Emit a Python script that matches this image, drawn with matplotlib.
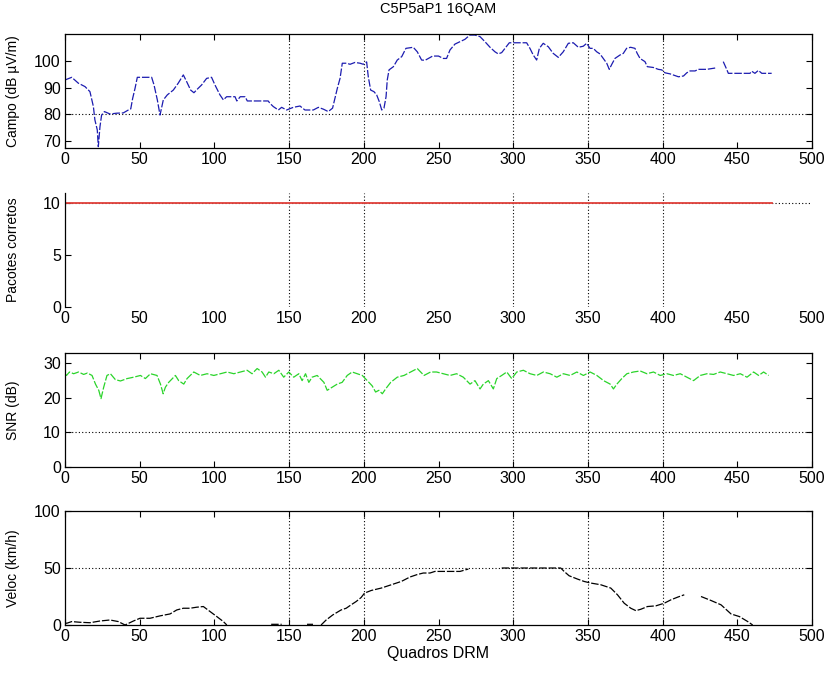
import numpy as np
import matplotlib
matplotlib.use("Agg")
import matplotlib.pyplot as plt

plt.rcParams["font.family"] = ["Liberation Sans", "DejaVu Sans"]

nan = np.nan

# Campo (dB uV/m)
campo_x = [0, 4.5, 8.9, 13.4, 16.7, 19, 20, 21.6, 22.3, 23.4, 24.5, 26.4, 30.1, 34.6, 39,
           42.4, 44, 45.3, 46.9, 48.4, 58, 59.6, 61.8, 63.6, 65.8, 68.5, 72.5, 75.8, 79.2,
           81.4, 84.1, 86.3, 89.2, 91.4, 94.8, 98.1, 100.4, 103.7, 106, 108.2, 113.8, 115,
           117.3, 120.6, 122, 136, 137.2, 139.4, 142.8, 145, 148.3, 152.8, 157.3, 160.6,
           166.2, 169.6, 173, 176.2, 179.1, 180.7, 182.3, 184.1, 185.6, 188.5, 190.8, 194.1,
           197.5, 199.7, 201.9, 203, 204.6, 206.8, 208.6, 210.4, 212, 213.5, 214.9, 215.7,
           216.9, 219.8, 222.4, 225.4, 228.2, 233.1, 235.8, 238.7, 241, 246.1, 250, 253.2,
           255.4, 257.7, 261, 264.4, 267.7, 271, 274.4, 277.8, 281.1, 284.5, 287.8, 290,
           292.3, 294.5, 297.4, 309, 311.2, 313.4, 315.7, 317.5, 320.1, 323.5, 326.8, 330.2,
           333.5, 336.9, 340.2, 343.6, 346.9, 349.2, 351.4, 353.6, 355.9, 358.1, 360.3,
           362.6, 364.3, 366, 368.1, 371.5, 373.7, 375.9, 378.6, 381.5, 383, 384.9, 388.2,
           389.8, 393.8, 397.1, 399.4, 401.6, 405, 410.6, 414, 416.2, 418.4, 421.7, 424,
           429.6, 435.2, 437, 440.6, 442.9, 444, 458.5, 459.6, 461.8, 464.1, 466.4, 473]
campo_y = [92.9, 93.9, 91.7, 90.4, 88.5, 82.9, 77.9, 74.1, 67.8, 75.3, 79.7, 81, 80.1, 80.4,
           80.5, 81.6, 82, 86, 89.8, 93.9, 93.9, 91, 85.4, 79.7, 85.4, 87.3, 89.1, 91.7, 94.8,
           92.3, 89.1, 88.1, 89.8, 91, 93.5, 93.9, 91, 87.3, 85.4, 86.6, 86.6, 85, 86.6, 86.6,
           85, 85, 84.1, 82.9, 81.6, 82.6, 81.6, 82.6, 83.1, 81.6, 81.6, 82.6, 81.9, 81,
           82.3, 86, 89.8, 93.5, 99.2, 99.2, 98.8, 99.5, 99.2, 98.8, 99.7, 94.1, 89.1, 88.5,
           87.3, 84.7, 81.6, 82.3, 86.6, 92.9, 96.7, 97.9, 100.4, 101.7, 104.8, 105.2, 103.5,
           100.4, 100.3, 101.9, 101.9, 101, 101, 104.2, 106.4, 107.3, 108.2, 109.8, 109.8,
           109.2, 107.3, 105.2, 103.5, 102.7, 103.2, 104.8, 106.9, 106.9, 104.8, 102.3, 100.4,
           104.8, 106.7, 105.4, 102.9, 101.4, 103.5, 106.7, 106.9, 105.2, 105.6, 106.7, 104.8,
           104.8, 103.5, 102.7, 101, 99.2, 96.9, 98.8, 101, 102.3, 102.9, 104.8, 105.2, 104.8,
           102.9, 101, 99.8, 97.9, 97.6, 96.9, 96.7, 95.6, 95.2, 94.1, 94.4, 95.6, 96.3, 96.3,
           96.9, 96.9, 97.4, nan, 99.8, 96.9, 95.4, 95.4, 96.2, 95.4, 96.5, 95.4, 95.4]

# Pacotes corretos
pacotes_x = [0, 473]
pacotes_y = [10, 10]

# SNR (dB)
snr_x = [0, 1, 3, 5.8, 9.1, 12.5, 15, 18.1, 20.4, 22.6, 24.1, 25.9, 28.1, 30.4, 33.7, 37.1,
         41.6, 46, 50.5, 53.8, 57.2, 61.6, 63.9, 65.7, 67.2, 69.4, 73.9, 76.1, 79.5, 81.7,
         86.2, 90.6, 95.1, 99.6, 104, 108.5, 113, 117.4, 121.9, 125.2, 128.6, 131.9, 134.2,
         136.4, 139.8, 143.1, 146.4, 149.8, 153.1, 156.5, 158.7, 161, 163.2, 165.4, 168.8,
         173.3, 175.5, 178.8, 182.2, 185.5, 188.9, 192.2, 195.6, 199, 202.3, 205.6, 207.9,
         210.1, 212.4, 214.6, 218, 222.4, 226.9, 231.4, 235.8, 240.3, 244.7, 248.7, 253.2,
         257.7, 262.1, 266.6, 271.1, 274.4, 277.8, 280, 283.4, 286.7, 289, 292.3, 295.7, 299,
         302.4, 306.8, 311.3, 315.8, 320.2, 324.7, 329.2, 333.6, 338.1, 342.6, 347, 351.5,
         356, 360.5, 364.9, 367.1, 369.4, 372.7, 376.1, 380.5, 385, 389.5, 393.9, 398.4,
         402.9, 407.3, 411.8, 416.3, 420.7, 425.2, 429.7, 434.1, 438.6, 443.1, 447.5, 452,
         456.5, 460.9, 464.3, 467.6, 471]
snr_y = [27, 26.5, 27.5, 27, 27.5, 26.8, 27.2, 26.5, 24, 22.2, 19.8, 23.1, 26.5, 27, 25.3,
         24.9, 25.6, 26, 26.5, 25.6, 27, 26.5, 24, 21.2, 23.1, 24.5, 26.5, 25, 24, 25.6, 27.5,
         26.5, 27, 26.5, 27, 27.5, 27, 27.5, 28, 27, 28.5, 27.5, 26, 27.5, 27, 28, 26, 27.5,
         26, 27, 25, 27, 24.5, 26, 26.5, 24.5, 22.2, 23.1, 24, 24.5, 26.5, 27.5, 27, 26.5, 25,
         23.5, 21.7, 22.2, 21.2, 22.6, 24.5, 26, 26.5, 27.5, 28.5, 26.5, 27.5, 27.5, 27, 26.5,
         27, 26, 24, 25, 22.6, 24, 25, 22.6, 25.6, 26.5, 27.5, 25.6, 27.5, 28, 27, 26.5, 27.5,
         27, 26, 27, 26.5, 27.5, 26.5, 27.5, 26.5, 25, 24, 22.6, 24, 25.6, 27, 27.5, 27.8, 27,
         27.5, 26.5, 27, 26.5, 27, 26, 25, 26.5, 27, 26.8, 27.5, 27, 26.5, 27, 26, 27.5, 26.5,
         27.5, 26.5]

# Veloc (km/h)
veloc_x = [0, 1.1, 4.5, 10, 16.7, 23.4, 30.1, 35.7, 40.2, 45.8, 50.2, 56.9, 63.6, 70.3, 74.8,
           79.2, 83.7, 88.1, 92.6, 97.1, 101.6, 106, 108.3, 120, 138, 145, 150, 162, 166, 168,
           171.4, 174.8, 179.2, 184.8, 188.2, 191.5, 194.9, 198.2, 200.5, 205, 211.7, 218.4,
           225.1, 230.9, 235.4, 239.8, 244.3, 247.6, 264.4, 270, 280, 292.3, 314.6, 331.8,
           334.1, 337.4, 343, 347.5, 351.9, 358.6, 365.3, 369.8, 374.3, 378.7, 382.1, 385.4,
           389.9, 395.5, 401.1, 405.6, 410, 414.5, 420, 425.7, 432.4, 439.1, 445.8, 451.4,
           457, 460.3]
veloc_y = [2, 1.5, 3, 2.4, 2, 3.5, 4.4, 3, 0, 3.5, 5.9, 5.9, 8, 9.7, 13.2, 14.7, 14.7, 15.6,
           16.2, 11.8, 7.4, 3, 0, nan, 0.6, 0.6, nan, 0.6, 0.6, nan, 0, 4.4, 8.8, 13.2, 14.7,
           17.7, 20.6, 24.1, 28, 30.3, 32.4, 35.3, 38.2, 42.1, 44.1, 45.6, 45.6, 47, 47, 49.1,
           nan, 50, 50, 50, 47, 43.2, 40.3, 38.2, 36.8, 35.3, 32.4, 26.5, 19.1, 14.7, 12.6,
           13.8, 16.2, 16.8, 19.1, 22.1, 24.4, 26.5, nan, 25, 21.5, 17.7, 9.7, 7.4, 3, 0]

x_ticks = np.arange(0, 501, 50)
grid_x = [150, 200, 300, 350, 400]

fig = plt.figure(figsize=(8.3, 6.77), dpi=100)

W, H = 830, 677
def box(top, bottom):
    return [65 / W, 1 - bottom / H, 747 / W, (bottom - top) / H]

panels = [
    # (top px, bottom px, x, y, colour, ylim, yticks, ylabel, hgrid)
    (34, 148, campo_x, campo_y, "#1c1cb0", (67.3, 110.2), [70, 80, 90, 100],
     "Campo (dB \u00b5V/m)", 80),
    (193, 307, pacotes_x, pacotes_y, "#e0403a", (0, 11), [0, 5, 10],
     "Pacotes corretos", 10),
    (353, 467, snr_x, snr_y, "#2ad42a", (0, 33), [0, 10, 20, 30], "SNR (dB)", 10),
    (511, 625, veloc_x, veloc_y, "black", (0, 100), [0, 50, 100], "Veloc (km/h)", 50),
]

axes = []
for i, (top, bottom, xs, ys, col, ylim, yt, ylab, hg) in enumerate(panels):
    ax = fig.add_axes(box(top, bottom))
    # dotted grid (only the pieces that survive in the reference)
    for gx in grid_x:
        ax.axvline(gx, color="black", linestyle=(0, (1, 2)), linewidth=0.8, zorder=1)
    ax.axhline(hg, color="black", linestyle=(0, (1, 2)), linewidth=0.8, zorder=1)

    if i == 1:
        ax.plot(xs, ys, color=col, linewidth=1.3, zorder=2)
    else:
        ax.plot(xs, ys, color=col, linewidth=0.9, linestyle=(0, (6, 1.5)), zorder=2)

    ax.set_xlim(0, 500)
    ax.set_ylim(*ylim)
    ax.set_xticks(x_ticks)
    ax.set_yticks(yt)
    ax.tick_params(direction="in", top=True, right=True, labelsize=11.5,
                   length=4, width=0.8, pad=3)
    ax.set_ylabel(ylab, fontsize=10, labelpad=4)
    for s in ax.spines.values():
        s.set_linewidth(0.9)
    if i == 1:
        # the box of this panel is lost in the reference, only the left axis remains
        for side in ("top", "right", "bottom"):
            ax.spines[side].set_visible(False)
        ax.tick_params(top=False, right=False, bottom=False)
    axes.append(ax)

axes[0].set_title("C5P5aP1 16QAM", fontsize=10.5, pad=15)
axes[3].set_xlabel("Quadros DRM", fontsize=11.5, labelpad=1)

for ax in axes:
    ax.yaxis.set_label_coords(-0.06, 0.5)

fig.savefig("out.png", dpi=100)
